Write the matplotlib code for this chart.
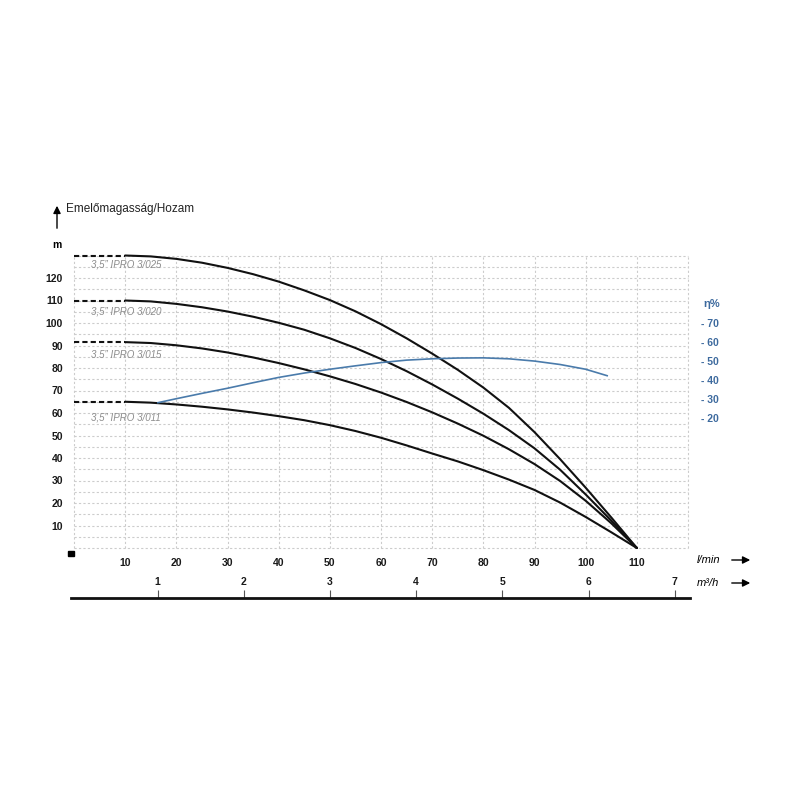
import matplotlib
matplotlib.use("Agg")
import matplotlib.pyplot as plt
from matplotlib.patches import Rectangle
import numpy as np

plt.rcParams['font.family'] = ['Liberation Sans', 'DejaVu Sans']

# flow in l/min, head in m
q = [10, 15, 20, 25, 30, 35, 40, 45, 50, 55, 60, 65, 70, 75, 80, 85, 90, 95, 100, 105, 110]
h_025 = [130, 129.6, 128.5, 126.8, 124.5, 121.7, 118.4, 114.5, 110.2, 105.2, 99.5, 93.2, 86.4, 79.2, 71.3, 62.3, 51.5, 39.5, 26.8, 13.6, 0]
h_020 = [110, 109.6, 108.5, 107, 105.1, 102.8, 100.1, 97, 93.2, 88.9, 84, 78.6, 72.7, 66.4, 59.7, 52.4, 44.3, 34.8, 23.8, 12.2, 0]
h_015 = [91.5, 91.1, 90.1, 88.7, 86.9, 84.7, 82.2, 79.4, 76.3, 72.9, 69.1, 64.9, 60.3, 55.3, 49.9, 43.9, 37.3, 29.8, 21, 11, 0]
h_011 = [65, 64.6, 63.8, 62.8, 61.6, 60.2, 58.6, 56.8, 54.6, 52, 49, 45.6, 42, 38.5, 34.6, 30.4, 25.8, 20.2, 13.8, 7, 0]
curves = [h_025, h_020, h_015, h_011]
names = ['3,5\u201d IPRO 3/025', '3,5\u201d IPRO 3/020', '3.5\u201d IPRO 3/015', '3,5\u201d IPRO 3/011']
name_pos = [(3.3, 126.2), (3.3, 104.9), (3.3, 85.8), (3.3, 58.2)]

# efficiency
q_eta = [16.4, 20, 25, 30, 35, 40, 45, 50, 55, 60, 65, 70, 75, 80, 85, 90, 95, 100, 104.2]
eta = [27.9, 30, 32.8, 35.5, 38.4, 41.2, 43.5, 45.5, 47.3, 49, 50.3, 51, 51.4, 51.5, 51, 49.8, 48, 45.5, 42.1]

x_ticks = list(range(10, 111, 10))
y_ticks = list(range(10, 121, 10))
eta_ticks = [20, 30, 40, 50, 60, 70]
m3h_ticks = [1, 2, 3, 4, 5, 6, 7]

blue = '#4a7bab'
lab_blue = '#3d6a9e'
gridc = '#cccccc'

fig = plt.figure(figsize=(8, 8), dpi=100)
ax = fig.add_axes([74/800, 252/800, 614/800, 292.5/800])
ax.set_xlim(0, 120)
ax.set_ylim(0, 130)

for y in np.arange(0, 131, 5):
    ax.axhline(y, color=gridc, lw=0.8, ls=(0, (2, 2)), clip_on=False, zorder=1)
for x in range(0, 121, 10):
    ax.axvline(x, color=gridc, lw=0.8, ls=(0, (2, 2)), clip_on=False, zorder=1)

for h, nm, pos in zip(curves, names, name_pos):
    ax.plot(q, h, color='#111111', lw=1.5, zorder=3, clip_on=False,
            solid_joinstyle='round', solid_capstyle='round')
    ax.plot([0, q[0]], [h[0], h[0]], color='#111111', lw=1.5, ls=(0, (2.5, 1.5)),
            zorder=3, clip_on=False)
    ax.text(pos[0], pos[1], nm, fontsize=7, style='italic', color='#8c8c8c',
            va='center', ha='left', zorder=2)

for s in ax.spines.values():
    s.set_visible(False)
ax.set_xticks(x_ticks)
ax.set_yticks(y_ticks)
ax.tick_params(length=0, labelsize=7.5, colors='#1a1a1a')
ax.tick_params(axis='x', pad=7)
ax.tick_params(axis='y', pad=8)
for t in ax.get_xticklabels() + ax.get_yticklabels():
    t.set_fontweight('bold')

# efficiency axis
ax2 = ax.twinx()
ax2.set_ylim(-(548 - 455.7) / 1.9, (455.7 - 255.5) / 1.9)
ax2.plot(q_eta, eta, color=blue, lw=1.2, zorder=4, solid_joinstyle='round')
for s in ax2.spines.values():
    s.set_visible(False)
ax2.set_yticks(eta_ticks)
ax2.set_yticklabels(['- %d' % v for v in eta_ticks])
ax2.tick_params(length=0, pad=9, labelsize=7.5, colors=lab_blue)
for t in ax2.get_yticklabels():
    t.set_fontweight('bold')
fig.text(703/800, 1 - 304/800, '\u03b7%', fontsize=8, fontweight='bold', color=lab_blue,
         va='center', ha='left')

# m3/h axis
ax3 = fig.add_axes([71.3/800, 202/800, 618.7/800, 0.0001])
ax3.set_xlim(0, 618.7/86.2)
ax3.set_yticks([])
ax3.patch.set_visible(False)
for k in ['left', 'right', 'bottom']:
    ax3.spines[k].set_visible(False)
ax3.spines['top'].set_linewidth(2)
ax3.spines['top'].set_color('#111111')
ax3.xaxis.set_ticks_position('top')
ax3.xaxis.set_label_position('top')
ax3.set_xticks(m3h_ticks)
ax3.tick_params(axis='x', direction='out', length=6, width=0.8, color='#555555',
                pad=2, labelsize=7.5, colors='#1a1a1a')
ax3.tick_params(axis='x', color='#555555')
for t in ax3.get_xticklabels():
    t.set_fontweight('bold')

# axis names and arrows
fig.text(697/800, 1 - 560/800, 'l/min', fontsize=8, style='italic', va='center', ha='left')
fig.text(697/800, 1 - 583/800, 'm\u00b3/h', fontsize=8, style='italic', va='center', ha='left')
for yy in [560, 583]:
    ax.annotate('', xy=(753, 800 - yy), xytext=(729, 800 - yy), xycoords='figure pixels',
                arrowprops=dict(arrowstyle='-|>', color='k', lw=1, mutation_scale=11))
ax.annotate('', xy=(57, 800 - 203), xytext=(57, 800 - 231), xycoords='figure pixels',
            arrowprops=dict(arrowstyle='-|>', color='k', lw=1, mutation_scale=11))
fig.text(66/800, 1 - 209/800, 'Emel\u0151magass\u00e1g/Hozam', fontsize=8.5, va='center', ha='left',
         color='#222222')
fig.text(57/800, 1 - 245/800, 'm', fontsize=7.5, fontweight='bold', va='center', ha='center')
fig.patches.append(Rectangle((68/800, 1 - 556/800), 5.5/800, 5.5/800, color='k',
                             transform=fig.transFigure, figure=fig))

fig.savefig('out.png', dpi=100)
